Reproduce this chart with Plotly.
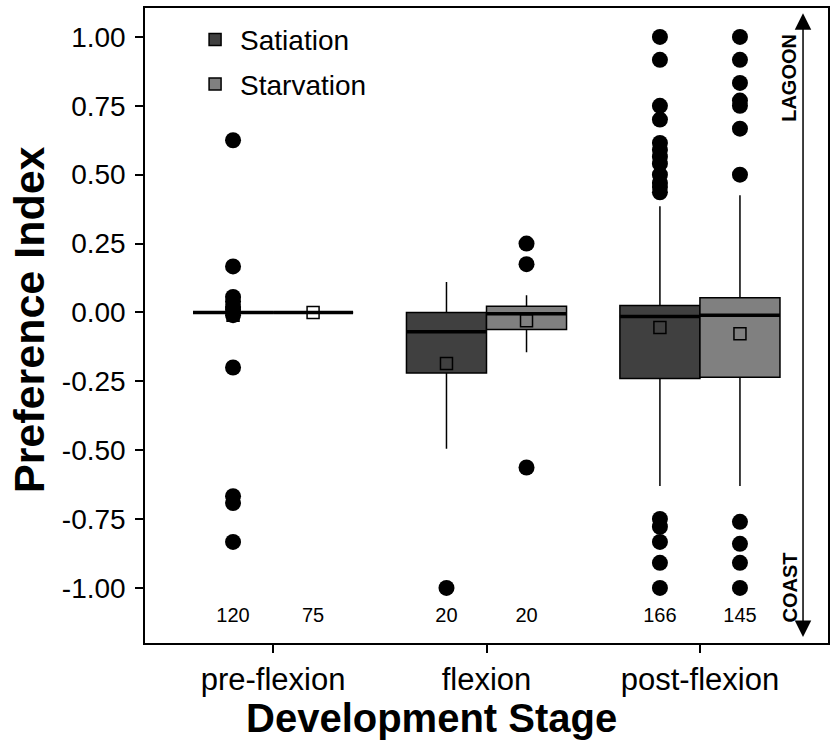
import plotly.graph_objects as go

categories = ["pre-flexion", "flexion", "post-flexion"]
treatments = ["Satiation", "Starvation"]
colors = {"Satiation": "#404040", "Starvation": "#808080"}

q1 = {"Satiation": [0.0, -0.22, -0.24], "Starvation": [0.0, -0.062, -0.235]}
median = {"Satiation": [0.0, -0.07, -0.015], "Starvation": [0.0, -0.005, -0.01]}
q3 = {"Satiation": [0.0, 0.0, 0.025], "Starvation": [0.0, 0.022, 0.053]}
lowerfence = {"Satiation": [0.0, -0.495, -0.63], "Starvation": [0.0, -0.145, -0.63]}
upperfence = {"Satiation": [0.0, 0.11, 0.385], "Starvation": [0.0, 0.062, 0.425]}
means = {"Satiation": [-0.01, -0.185, -0.055], "Starvation": [0.0, -0.03, -0.077]}
counts = {"Satiation": [120, 20, 166], "Starvation": [75, 20, 145]}

outliers = {
    "Satiation": [
        [0.625, 0.167, 0.056, 0.04, 0.02, 0.01, -0.01, -0.2, -0.667, -0.692, -0.833],
        [-1.0],
        [1.0, 0.917, 0.75, 0.7, 0.615, 0.59, 0.565, 0.54, 0.5, 0.47, 0.455, 0.436,
         -0.75, -0.778, -0.833, -0.909, -1.0],
    ],
    "Starvation": [
        [],
        [0.25, 0.175, -0.563],
        [1.0, 0.917, 0.833, 0.769, 0.75, 0.667, 0.5, -0.76, -0.84, -0.909, -1.0],
    ],
}

yticks = [-1.0, -0.75, -0.5, -0.25, 0.0, 0.25, 0.5, 0.75, 1.0]

DODGE = 0.375
offsets = {"Satiation": -DODGE / 2, "Starvation": DODGE / 2}
legend_ids = {"Satiation": "legend", "Starvation": "legend2"}
FONT = "Liberation Sans, Arial, sans-serif"

fig = go.Figure()

for t in treatments:
    xs = [k + 1 + offsets[t] for k in range(len(categories))]
    fig.add_trace(go.Box(
        x=xs, q1=q1[t], median=median[t], q3=q3[t],
        lowerfence=lowerfence[t], upperfence=upperfence[t],
        width=DODGE, fillcolor=colors[t],
        line=dict(color="black", width=1.5), whiskerwidth=0,
        boxpoints=False, name=t, legendgroup=t, showlegend=True,
        legend=legend_ids[t], hoverinfo="skip",
    ))

# thick median lines
for t in treatments:
    mx, my = [], []
    for k in range(len(categories)):
        c = k + 1 + offsets[t]
        mx += [c - DODGE / 2, c + DODGE / 2, None]
        my += [median[t][k], median[t][k], None]
    fig.add_trace(go.Scatter(x=mx, y=my, mode="lines",
                             line=dict(color="black", width=3.5),
                             showlegend=False, hoverinfo="skip"))

# outliers
for t in treatments:
    ox, oy = [], []
    for k in range(len(categories)):
        c = k + 1 + offsets[t]
        ox += [c] * len(outliers[t][k])
        oy += outliers[t][k]
    fig.add_trace(go.Scatter(x=ox, y=oy, mode="markers",
                             marker=dict(color="black", size=16),
                             showlegend=False, hoverinfo="skip"))

# means
for t in treatments:
    xs = [k + 1 + offsets[t] for k in range(len(categories))]
    fig.add_trace(go.Scatter(x=xs, y=means[t], mode="markers",
                             marker=dict(symbol="square-open", size=12,
                                         color="black", line=dict(width=1.5)),
                             showlegend=False, hoverinfo="skip"))

# n labels
for t in treatments:
    xs = [k + 1 + offsets[t] for k in range(len(categories))]
    fig.add_trace(go.Scatter(x=xs, y=[-1.105] * len(xs), mode="text",
                             text=[str(n) for n in counts[t]],
                             textfont=dict(family=FONT, size=20, color="black"),
                             showlegend=False, hoverinfo="skip"))

# direction arrow and labels
fig.add_annotation(x=3.483, y=-1.178, ax=3.483, ay=1.091, axref="x", ayref="y",
                   xref="x", yref="y", text="", showarrow=True,
                   arrowside="end+start", arrowhead=2, arrowsize=2.2,
                   arrowwidth=1.5, arrowcolor="black")
fig.add_annotation(x=3.42, y=0.85, xref="x", yref="y", text="<b>LAGOON</b>",
                   textangle=-90, showarrow=False,
                   font=dict(family=FONT, size=20, color="black"))
fig.add_annotation(x=3.42, y=-1.0, xref="x", yref="y", text="<b>COAST</b>",
                   textangle=-90, showarrow=False,
                   font=dict(family=FONT, size=20, color="black"))

# axis titles
fig.add_annotation(x=0.42, y=-0.118, xref="paper", yref="paper",
                   text="<b>Development Stage</b>", showarrow=False,
                   xanchor="center", yanchor="middle",
                   font=dict(family=FONT, size=40, color="black"))
fig.add_annotation(x=-0.17, y=0.51, xref="paper", yref="paper",
                   text="<b>Preference Index</b>", showarrow=False, textangle=-90,
                   xanchor="center", yanchor="middle",
                   font=dict(family=FONT, size=43, color="black"))

legend_style = dict(xanchor="left", yanchor="middle",
                    font=dict(family=FONT, size=28, color="black"),
                    bgcolor="rgba(0,0,0,0)", itemwidth=40)

fig.update_layout(
    width=838, height=750,
    margin=dict(l=145, r=10, t=8, b=107, autoexpand=False),
    paper_bgcolor="white", plot_bgcolor="white",
    font=dict(family=FONT, color="black"),
    legend=dict(x=0.066, y=0.95, **legend_style),
    legend2=dict(x=0.066, y=0.88, **legend_style),
    xaxis=dict(range=[0.4, 3.6], tickvals=[1, 2, 3], ticktext=categories,
               automargin=False,
               showgrid=False, zeroline=False, showline=True, mirror=True,
               linecolor="black", linewidth=1.5, ticks="outside", ticklen=8,
               tickwidth=1.5, tickcolor="black",
               tickfont=dict(family=FONT, size=31, color="black")),
    yaxis=dict(range=[-1.2, 1.105], tickvals=yticks,
               ticktext=[f"{v:.2f}" for v in yticks],
               automargin=False, ticklabelstandoff=4,
               showgrid=False, zeroline=False, showline=True, mirror=True,
               linecolor="black", linewidth=1.5, ticks="outside", ticklen=8,
               tickwidth=1.5, tickcolor="black",
               tickfont=dict(family=FONT, size=28, color="black")),
)

fig.write_html("out.html", config={"displayModeBar": False},
               post_script="document.body.style.margin='0px';")
